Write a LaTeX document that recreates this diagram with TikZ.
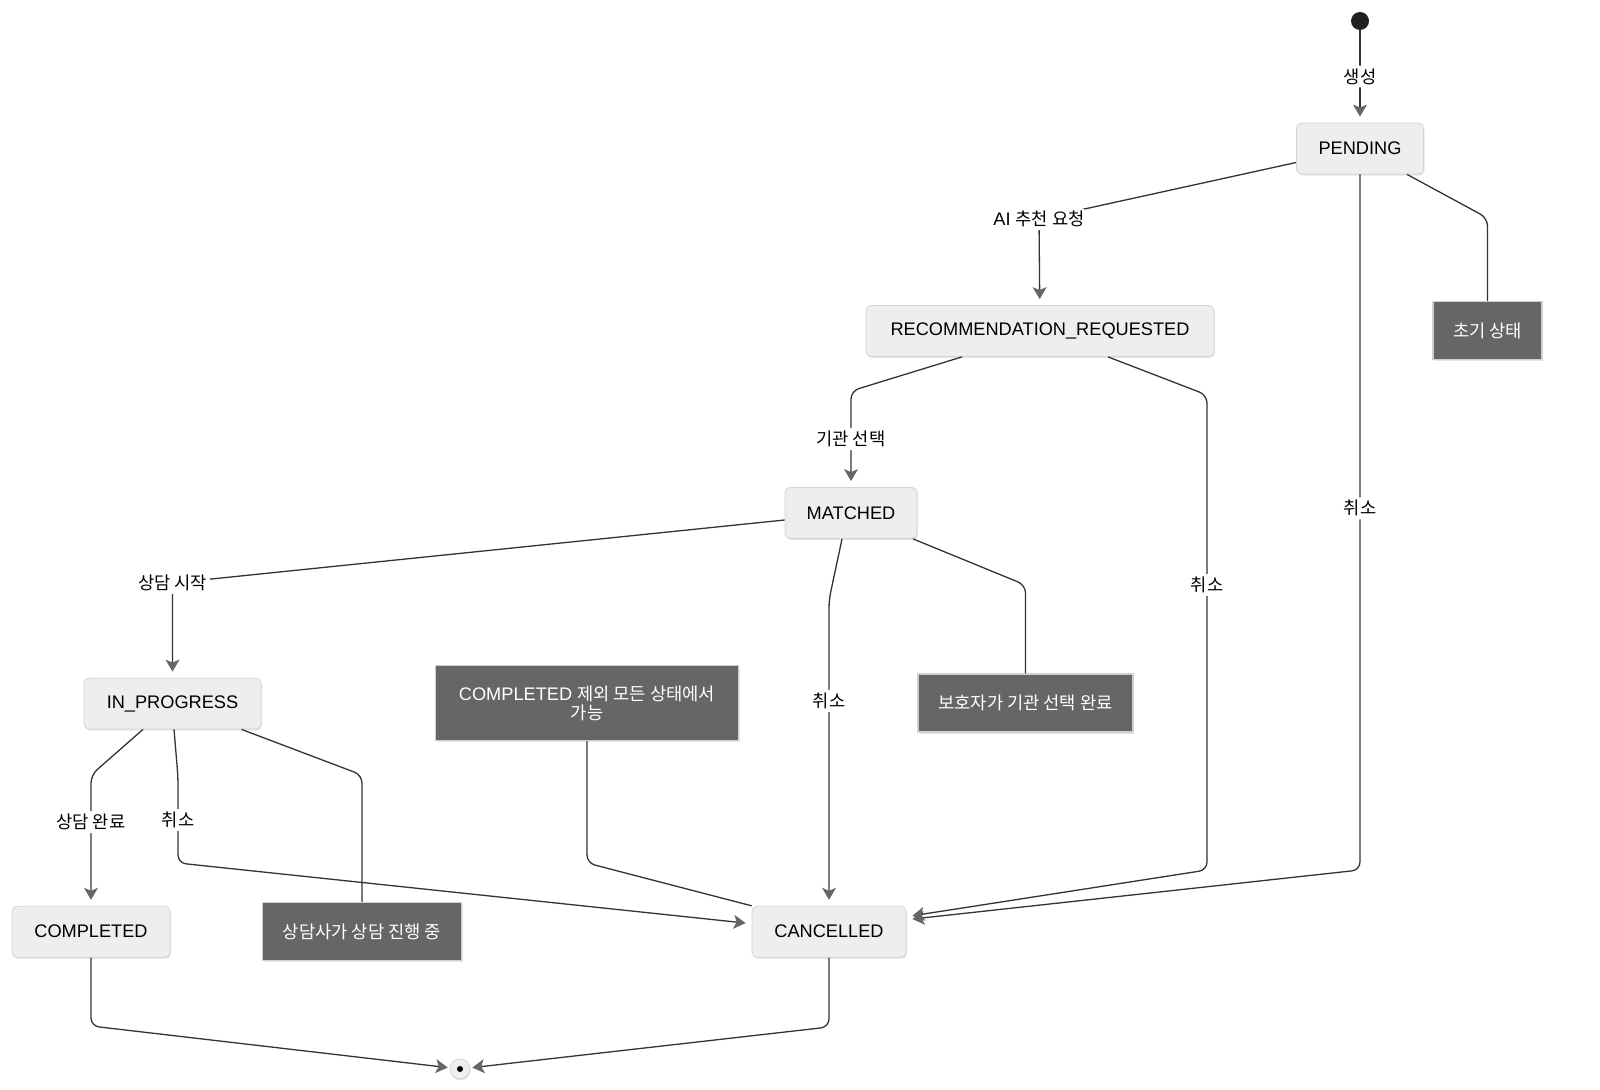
\documentclass[tikz,border=0pt]{standalone}
\usepackage{fontspec}
\setmainfont{Liberation Sans}
\newfontfamily\kr[Scale=0.97]{Noto Sans CJK KR}
\usetikzlibrary{arrows.meta,calc,shadows}

\definecolor{statefill}{HTML}{EEEEEE}
\definecolor{stateline}{HTML}{D4D4D4}
\definecolor{notefill}{HTML}{666666}
\definecolor{noteline}{HTML}{CFCFCF}
\definecolor{edgeline}{HTML}{333333}
\definecolor{tipgray}{HTML}{666666}

\tikzset{
  state/.style={draw=stateline, fill=statefill, rounded corners=2.5pt,
    minimum height=25.5pt, inner xsep=10pt, font=\fontsize{9.1}{11}\selectfont,
    drop shadow={shadow xshift=0.5pt, shadow yshift=-0.8pt, opacity=0.2}},
  note/.style={draw=noteline, fill=notefill, text=white, line width=0.6pt,
    minimum height=29pt, inner xsep=9pt, font=\fontsize{9.1}{9.6}\selectfont,
    drop shadow={shadow xshift=0.5pt, shadow yshift=-0.8pt, opacity=0.2}},
  initst/.style={circle, fill=black!87, minimum size=9pt, inner sep=0pt},
  finalst/.style={circle, draw=stateline, fill=statefill, minimum size=10pt, inner sep=0pt,
    drop shadow={shadow xshift=0.3pt, shadow yshift=-0.6pt, opacity=0.25}},
  trans/.style={draw=edgeline, line width=0.65pt, rounded corners=4pt, shorten >=3pt,
    -{Stealth[length=6pt, width=7pt, inset=1.5pt, color=tipgray]}},
  link/.style={draw=edgeline, line width=0.65pt, rounded corners=4pt},
  lbl/.style={fill=white, inner sep=1.5pt, font=\fontsize{9.1}{11}\selectfont},
}

\begin{document}
\begin{tikzpicture}[x=0.5pt, y=-0.5pt]
    \useasboundingbox (0,0) rectangle (1600,1090);

    % States
    \node[initst] (init) at (1360,21) {};
    \node[state, minimum width=63.5pt] (pending) at (1360,148.5) {PENDING};
    \node[state, minimum width=174pt] (rec) at (1040,331) {RECOMMENDATION\_REQUESTED};
    \node[state, minimum width=66pt] (matched) at (851,513) {MATCHED};
    \node[state, minimum width=88.5pt] (inprog) at (172.5,703.5) {IN\_PROGRESS};
    \node[state, minimum width=79pt] (completed) at (91,931.7) {COMPLETED};
    \node[state, minimum width=77pt] (cancelled) at (829,931.7) {CANCELLED};
    \node[finalst] (final) at (460,1069) {};
    \fill[black] (final.center) circle (1.5pt);

    % Notes
    \node[note, minimum width=54.5pt] (nPending) at (1487.5,330.5) {\kr 초기 상태};
    \node[note, minimum width=107.5pt] (nMatched) at (1025.5,703) {\kr 보호자가 기관 선택 완료};
    \node[note, minimum width=99.5pt] (nInprog) at (362,931.5) {\kr 상담사가 상담 진행 중};
    \node[note, minimum width=151.5pt, minimum height=37.5pt, align=center] (nCancel) at (587,703)
        {COMPLETED {\kr 제외 모든 상태에서}\\{\kr 가능}};

    % Transitions
    \draw[trans] (init) -- node[lbl]{\kr 생성} (pending);
    \draw[trans] ($(pending.west)+(0,14)$) -- (1039,219) -- node[lbl, pos=0]{AI {\kr 추천 요청}} (rec);
    \draw[trans] (pending) -- node[lbl, pos=0.48]{\kr 취소} (1360,870) -- ($(cancelled.east)+(0,-12)$);
    \draw[link] ($(pending.south)+(47,0)$) -- (1487.5,218) -- (nPending);

    \draw[trans] ($(rec.south)+(-78,0)$) -- (851,391) -- node[lbl]{\kr 기관 선택} (matched);
    \draw[trans] ($(rec.south)+(68,0)$) -- (1207,395) -- node[lbl, pos=0.4]{\kr 취소} (1207,870)
        -- ($(cancelled.east)+(0,-15)$);

    \draw[trans] ($(matched.west)+(0,7)$) -- (172.5,583) -- node[lbl, pos=0]{\kr 상담 시작} (inprog);
    \draw[trans] ($(matched.south)+(-9,0)$) -- (829,600) -- node[lbl, pos=0.33]{\kr 취소} (cancelled);
    \draw[link] ($(matched.south)+(62,0)$) -- (1025.5,585) -- (nMatched);

    \draw[trans] ($(inprog.south)+(-29.5,0)$) -- (91,775) -- node[lbl, pos=0.36]{\kr 상담 완료} (completed);
    \draw[trans] ($(inprog.south)+(1.5,0)$) -- (178,777) -- node[lbl]{\kr 취소} (178,863)
        -- ($(cancelled.west)+(0,-8)$);
    \draw[link] ($(inprog.south)+(69,0)$) -- (362,775) -- (nInprog);

    \draw[link] (nCancel) -- (587,863) -- (cancelled.north west);

    \draw[trans, shorten >=1pt] (completed) -- (91,1026) -- (final);
    \draw[trans, shorten >=1pt] (cancelled) -- (829,1027) -- (final);
\end{tikzpicture}
\end{document}
